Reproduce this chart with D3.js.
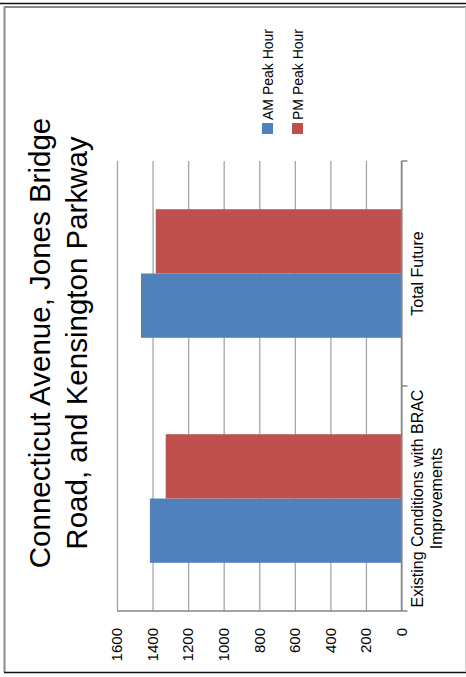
<!DOCTYPE html>
<html>
<head>
<meta charset="utf-8">
<script src="https://cdn.jsdelivr.net/npm/d3@7"></script>
<style>
  body { margin: 0; background: #fff; }
  text { font-family: "Liberation Sans", Arial, sans-serif; fill: #000; }
</style>
</head>
<body>
<div id="chart"></div>
<script>
// data
const categories = ["Existing Conditions with BRAC Improvements", "Total Future"];
const categoryLines = [["Existing Conditions with BRAC", "Improvements"], ["Total Future"]];
const seriesNames = ["AM Peak Hour", "PM Peak Hour"];
const seriesColors = ["#4f81bd", "#c0504d"];
const amValues = [1415, 1465];
const pmValues = [1326, 1382];
const valueTicks = [0, 200, 400, 600, 800, 1000, 1200, 1400, 1600];
const titleLines = ["Connecticut Avenue, Jones Bridge", "Road, and Kensington Parkway"];

const pageW = 466, pageH = 677;

const svg = d3.select("#chart")
    .append("svg")
    .attr("width", pageW)
    .attr("height", pageH);

// page frame (scanned document edges)
svg.append("line").attr("x1", 0).attr("x2", pageW).attr("y1", 3.5).attr("y2", 3.5)
    .attr("stroke", "#111").attr("stroke-width", 1.5);
svg.append("line").attr("x1", 4).attr("x2", pageW).attr("y1", 7).attr("y2", 7)
    .attr("stroke", "#8a8a8a").attr("stroke-width", 2);
svg.append("line").attr("x1", 4.5).attr("x2", 4.5).attr("y1", 7).attr("y2", 672)
    .attr("stroke", "#8a8a8a").attr("stroke-width", 2);
svg.append("line").attr("x1", 4).attr("x2", pageW).attr("y1", 672.5).attr("y2", 672.5)
    .attr("stroke", "#111").attr("stroke-width", 1.5);
svg.append("line").attr("x1", 465.5).attr("x2", 465.5).attr("y1", 7).attr("y2", 672)
    .attr("stroke", "#cfcfcf").attr("stroke-width", 1);

// the chart is drawn upright and then turned a quarter turn to the left
const g = svg.append("g")
    .attr("transform", `translate(0, ${pageH}) rotate(-90)`);

const plot = {left: 66, right: 516, top: 117, bottom: 401.5};

const x0 = d3.scaleBand()
    .domain(categories)
    .range([plot.left, plot.right]);

// excel gap width 150%
const gapW = x0.bandwidth() * 1.5 / 3.5;
const x1 = d3.scaleBand()
    .domain(seriesNames)
    .range([gapW / 2, x0.bandwidth() - gapW / 2]);

const y = d3.scaleLinear()
    .domain([0, 1600])
    .range([plot.bottom, plot.top]);

// gridlines
g.append("g")
    .attr("transform", `translate(${plot.left}, 0)`)
    .call(d3.axisLeft(y).tickValues(valueTicks).tickSize(-(plot.right - plot.left)).tickFormat(""))
    .call(a => a.select(".domain").remove())
    .selectAll("line")
    .attr("stroke", "#a6a6a6")
    .attr("stroke-width", 1.3);

// value labels
g.append("g")
    .selectAll("text")
    .data(valueTicks)
    .join("text")
    .attr("x", 49)
    .attr("y", d => y(d))
    .attr("dy", "0.35em")
    .attr("text-anchor", "end")
    .style("font-size", "15px")
    .text(d => d);

// bars
const rows = categories.map((c, i) => ({cat: c, vals: [amValues[i], pmValues[i]]}));
g.append("g")
    .selectAll("g")
    .data(rows)
    .join("g")
    .attr("transform", d => `translate(${x0(d.cat)}, 0)`)
    .selectAll("rect")
    .data(d => d.vals.map((v, j) => ({name: seriesNames[j], value: v, color: seriesColors[j]})))
    .join("rect")
    .attr("x", d => x1(d.name))
    .attr("width", x1.bandwidth())
    .attr("y", d => y(d.value))
    .attr("height", d => y(0) - y(d.value))
    .attr("fill", d => d.color);

// value axis line (left side when upright)
g.append("line")
    .attr("x1", plot.left).attr("x2", plot.left)
    .attr("y1", plot.top).attr("y2", plot.bottom)
    .attr("stroke", "#868686").attr("stroke-width", 1.5);

// category axis with outside ticks at band edges
const edges = categories.map(c => x0(c)).concat([plot.right]);
g.append("line")
    .attr("x1", plot.left).attr("x2", plot.right)
    .attr("y1", plot.bottom).attr("y2", plot.bottom)
    .attr("stroke", "#868686").attr("stroke-width", 1.5);
g.append("g")
    .selectAll("line")
    .data(edges)
    .join("line")
    .attr("x1", d => d).attr("x2", d => d)
    .attr("y1", plot.bottom).attr("y2", plot.bottom + 6)
    .attr("stroke", "#868686").attr("stroke-width", 1.5);

// category labels
g.append("g")
    .selectAll("text")
    .data(categories)
    .join("text")
    .attr("x", d => x0(d) + x0.bandwidth() / 2)
    .attr("y", 423)
    .attr("text-anchor", "middle")
    .style("font-size", "16px")
    .each(function(d, i) {
        d3.select(this).selectAll("tspan")
            .data(categoryLines[i])
            .join("tspan")
            .attr("x", x0(d) + x0.bandwidth() / 2)
            .attr("dy", (t, k) => k === 0 ? 0 : 19)
            .text(t => t);
    });

// title
g.append("text")
    .attr("x", 334)
    .attr("y", 50)
    .attr("text-anchor", "middle")
    .style("font-size", "29.5px")
    .selectAll("tspan")
    .data(titleLines)
    .join("tspan")
    .attr("x", 334)
    .attr("dy", (t, k) => k === 0 ? 0 : 37)
    .text(t => t);

// legend
const legend = g.append("g")
    .selectAll("g")
    .data(seriesNames)
    .join("g")
    .attr("transform", (d, i) => `translate(543, ${262 + i * 30})`);
legend.append("rect")
    .attr("width", 11)
    .attr("height", 11)
    .attr("fill", (d, i) => seriesColors[i]);
legend.append("text")
    .attr("x", 14)
    .attr("y", 10.5)
    .style("font-size", "14px")
    .text(d => d);
</script>
</body>
</html>
